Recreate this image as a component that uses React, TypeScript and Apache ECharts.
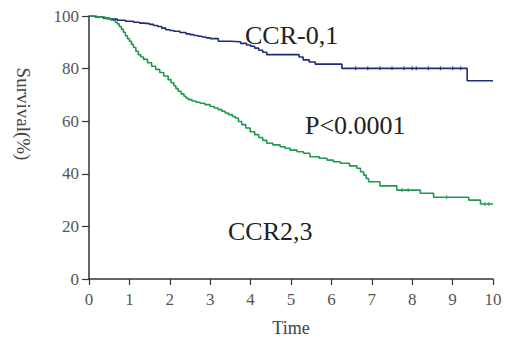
import React, { useEffect, useRef } from "react";
import * as echarts from "echarts";

// Kaplan-Meier curves (time, survival %)
const ccr01Times = [0, 0.15, 0.35, 0.5, 0.7, 0.9, 1.1, 1.25, 1.35, 1.5, 1.6, 1.7, 1.8, 1.9, 2.0, 2.1, 2.25, 2.4, 2.5, 2.6, 2.7, 2.8, 2.9, 3.0, 3.2, 3.5, 3.75, 3.9, 4.0, 4.1, 4.2, 4.3, 4.4, 5.2, 5.3, 5.45, 5.6, 6.26, 9.36, 10];
const ccr01Surv = [100, 99.6, 99.2, 98.8, 98.4, 98.0, 97.6, 97.3, 97.1, 96.8, 96.4, 96.0, 95.4, 94.8, 94.5, 94.2, 93.7, 93.2, 92.9, 92.6, 92.3, 92.0, 91.7, 91.4, 90.4, 90.2, 89.6, 89.0, 88.5, 87.8, 87.0, 86.2, 85.3, 84.4, 83.3, 82.5, 81.7, 80.1, 75.4, 75.4];

const ccr23Times = [0, 0.2, 0.4, 0.55, 0.65, 0.7, 0.75, 0.8, 0.85, 0.9, 0.95, 1.0, 1.05, 1.1, 1.16, 1.22, 1.28, 1.35, 1.45, 1.55, 1.65, 1.75, 1.85, 1.96, 2.03, 2.1, 2.15, 2.21, 2.28, 2.35, 2.4, 2.46, 2.55, 2.65, 2.75, 2.87, 3.0, 3.1, 3.2, 3.29, 3.37, 3.45, 3.55, 3.62, 3.7, 3.78, 3.88, 3.99, 4.1, 4.2, 4.3, 4.4, 4.55, 4.73, 4.85, 4.98, 5.15, 5.31, 5.47, 5.7, 5.89, 6.05, 6.22, 6.45, 6.63, 6.72, 6.8, 6.86, 6.92, 7.2, 7.62, 8.2, 8.53, 9.4, 9.69, 10];
const ccr23Surv = [100, 99.6, 99.0, 98.4, 97.6, 97.0, 96.0, 95.0, 93.8, 92.5, 91.4, 90.4, 89.2, 88.0, 86.6, 85.3, 84.4, 83.5, 82.2, 80.9, 79.7, 78.5, 77.2, 75.8, 74.6, 73.5, 72.4, 71.4, 70.4, 69.5, 68.8, 68.2, 67.7, 67.2, 66.8, 66.3, 65.6, 65.0, 64.4, 63.8, 63.1, 62.5, 61.8, 61.2, 59.9, 58.7, 57.4, 56.0, 54.9, 53.8, 52.7, 51.6, 51.0, 50.3, 49.7, 49.0, 48.4, 47.8, 46.5, 45.9, 45.2, 44.6, 44.0, 43.0, 42.1, 40.8, 39.5, 38.2, 37.0, 35.4, 33.8, 32.6, 31.1, 30.0, 28.5, 28.5];

// censor marks
const ccr01CensorTimes = [6.6, 6.9, 7.2, 7.5, 7.8, 8.0, 8.1, 8.4, 8.7, 9.0, 9.2];
const ccr01CensorSurv = [80.1, 80.1, 80.1, 80.1, 80.1, 80.1, 80.1, 80.1, 80.1, 80.1, 80.1];
const ccr23CensorTimes = [7.75, 7.9, 8.85, 9.8, 9.9];
const ccr23CensorSurv = [33.8, 33.8, 31.1, 28.5, 28.5];

const xTicks = [0, 1, 2, 3, 4, 5, 6, 7, 8, 9, 10];
const yTicks = [0, 20, 40, 60, 80, 100];

const FONT = "'Liberation Serif', 'Times New Roman', serif";
const BLUE = "#1f2a7c";
const GREEN = "#1d9a4c";

export default function App() {
  const ref = useRef<HTMLDivElement>(null);
  useEffect(() => {
    if (!ref.current) return;
    const chart = echarts.init(ref.current, null, { renderer: "svg" });
    const zip = (a: number[], b: number[]) => a.map((t, i) => [t, b[i]]);
    chart.setOption({
      animation: false,
      backgroundColor: "#ffffff",
      grid: { left: 89, right: 13, top: 16, bottom: 60 },
      xAxis: {
        type: "value",
        min: xTicks[0],
        max: xTicks[xTicks.length - 1],
        interval: 1,
        splitLine: { show: false },
        axisLine: { show: true, lineStyle: { color: "#333", width: 1.5 } },
        axisTick: { show: true, length: 6, lineStyle: { color: "#333", width: 1.2 } },
        axisLabel: { color: "#555", fontFamily: FONT, fontSize: 17, margin: 12 },
      },
      yAxis: {
        type: "value",
        min: yTicks[0],
        max: yTicks[yTicks.length - 1],
        interval: 20,
        splitLine: { show: false },
        axisLine: { show: true, lineStyle: { color: "#333", width: 1.5 } },
        axisTick: { show: true, length: 7, lineStyle: { color: "#333", width: 1.2 } },
        axisLabel: { color: "#555", fontFamily: FONT, fontSize: 17, margin: 10 },
      },
      graphic: [
        {
          type: "text",
          x: 23,
          y: 114,
          rotation: -Math.PI / 2,
          style: { text: "Survival(%)", fontFamily: FONT, fontSize: 19, fill: "#444", align: "center", verticalAlign: "middle" },
        },
        {
          type: "text",
          x: 291,
          y: 328,
          style: { text: "Time", fontFamily: FONT, fontSize: 18, fill: "#444", align: "center", verticalAlign: "middle" },
        },
        {
          type: "text",
          x: 245,
          y: 35,
          style: { text: "CCR-0,1", fontFamily: FONT, fontSize: 26, fill: "#222", align: "left", verticalAlign: "middle" },
        },
        {
          type: "text",
          x: 305,
          y: 125,
          style: { text: "P<0.0001", fontFamily: FONT, fontSize: 26, fill: "#222", align: "left", verticalAlign: "middle" },
        },
        {
          type: "text",
          x: 228,
          y: 231,
          style: { text: "CCR2,3", fontFamily: FONT, fontSize: 26, fill: "#222", align: "left", verticalAlign: "middle" },
        },
      ],
      series: [
        {
          name: "CCR-0,1",
          type: "line",
          step: "end",
          showSymbol: false,
          data: zip(ccr01Times, ccr01Surv),
          lineStyle: { color: BLUE, width: 1.6 },
          z: 3,
        },
        {
          name: "CCR2,3",
          type: "line",
          step: "end",
          showSymbol: false,
          data: zip(ccr23Times, ccr23Surv),
          lineStyle: { color: GREEN, width: 1.6 },
          z: 3,
        },
        {
          type: "scatter",
          data: zip(ccr01CensorTimes, ccr01CensorSurv),
          symbol: "rect",
          symbolSize: [1.2, 4],
          itemStyle: { color: BLUE },
        },
        {
          type: "scatter",
          data: zip(ccr23CensorTimes, ccr23CensorSurv),
          symbol: "rect",
          symbolSize: [1.2, 4],
          itemStyle: { color: GREEN },
        },
      ],
    });
    return () => chart.dispose();
  }, []);
  return <div ref={ref} style={{ position: "fixed", left: 0, top: 0, width: 506, height: 339 }} />;
}
